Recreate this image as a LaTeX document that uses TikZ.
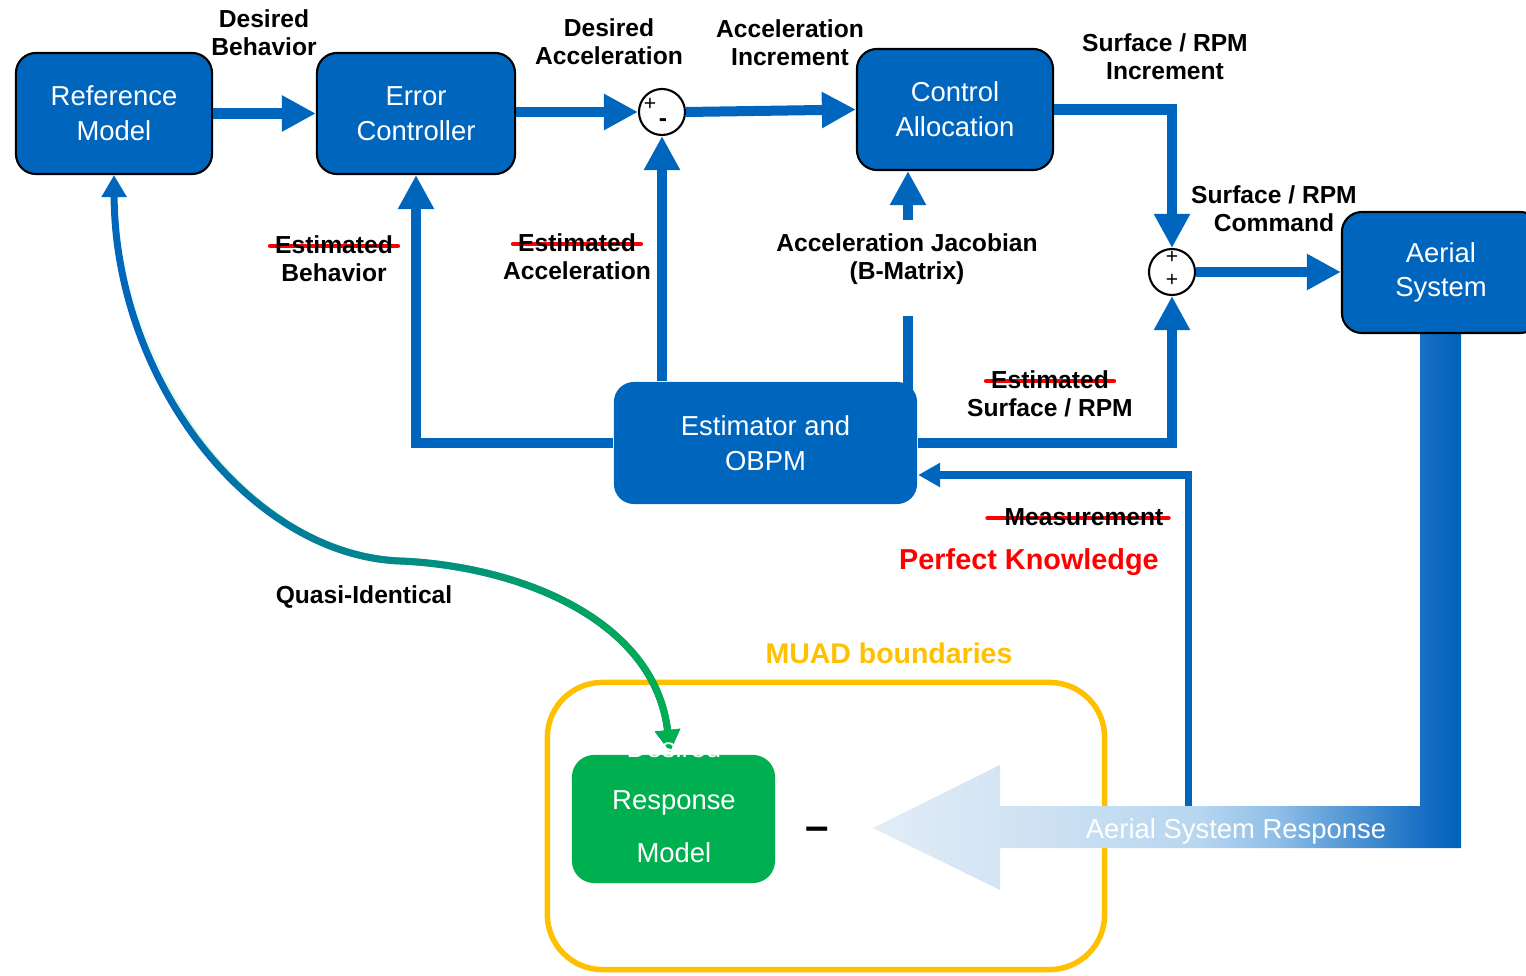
\documentclass[tikz,border=0pt]{standalone}
\usepackage{fontspec}
\setmainfont{Liberation Sans}
\usetikzlibrary{arrows.meta,fadings,backgrounds,calc}

\definecolor{mblue}{RGB}{0,102,189}
\definecolor{mgreen}{RGB}{0,176,80}
\definecolor{myellow}{RGB}{255,192,0}
\definecolor{mred}{RGB}{255,0,0}
% colour stops of the response band
\definecolor{bandA}{HTML}{E2EDF7}
\definecolor{bandB}{HTML}{D3E4F3}
\definecolor{bandC}{HTML}{B7D6F0}
\definecolor{bandD}{HTML}{8DBDE6}
\definecolor{bandE}{HTML}{62A0D9}
\definecolor{bandF}{HTML}{3A86CD}
\definecolor{bandG}{HTML}{1A70C4}
\definecolor{bandH}{HTML}{0062BA}
\pgfdeclarehorizontalshading{bandshade}{100bp}{%
  color(0bp)=(bandA); color(25bp)=(bandA); color(35.8bp)=(bandB);
  color(52.8bp)=(bandC); color(59.6bp)=(bandD); color(63.9bp)=(bandE);
  color(68.1bp)=(bandF); color(71.5bp)=(bandG); color(75bp)=(bandH);
  color(100bp)=(bandH)}
\tikzfading[name=curvefade, left color=transparent!100, right color=transparent!0]

\newcommand\boxfont{\fontsize{7.8}{9.9}\selectfont}
\newcommand\lblfont{\fontsize{7}{7.9}\selectfont\bfseries}

\tikzset{
  box/.style={draw=black, line width=0.6pt, fill=mblue, rounded corners=0.2cm,
    text=white, font=\boxfont, align=center, minimum width=1.96cm,
    minimum height=1.21cm, inner sep=0pt},
  lbl/.style={font=\lblfont, align=center, inner sep=1.2pt},
  sumj/.style={circle, draw=black, fill=white, line width=0.6pt,
    minimum size=0.46cm, inner sep=0pt},
  sgn/.style={font=\fontsize{6}{6}\selectfont, inner sep=0pt},
  flowline/.style={draw=mblue, line width=0.1cm, line join=miter},
  flow/.style={flowline, -{Triangle[length=0.34cm,width=0.34cm]}},
  thinflow/.style={draw=mblue, line width=0.07cm, line join=miter,
    -{Triangle[length=0.22cm,width=0.23cm]}},
  strike/.style={draw=mred, line width=1.4pt, line cap=round},
  curveline/.style={line width=0.07cm}
}

\begin{document}
\begin{tikzpicture}[x=0.01cm,y=-0.01cm]
\useasboundingbox (0,0) rectangle (1526,976);

% MUAD boundary
\node[draw=myellow, line width=0.055cm, rounded corners=0.55cm,
  minimum width=5.57cm, minimum height=2.87cm] (muad) at (826,826) {};
\node[font=\fontsize{8.1}{9}\selectfont\bfseries, text=myellow] (muadlbl) at (889,653) {MUAD boundaries};

% estimator
\node[box, draw=none, minimum width=3.03cm, minimum height=1.22cm] (est) at (765.5,443) {Estimator and\\OBPM};

% measurement feedback
\coordinate (mfoot) at (1188,812);
\coordinate (estm) at ($(est.east)+(0,32)$);
\draw[thinflow] (mfoot) |- (estm);

% aerial system response band
\shade[shading=bandshade] (1420,333) -- (1461,333) -- (1461,848) -- (1000,848)
  -- (1000,890) -- (873,828) -- (1000,765) -- (1000,806) -- (1420,806) -- cycle;
\node[font=\boxfont, text=white] (asr) at (1236,831) {Aerial System Response};

% blocks
\node[box] (ref) at (114,113.5) {Reference\\Model};
\node[box, minimum width=1.98cm] (err) at (416,113.5) {Error\\Controller};
\node[box] (ca) at (955,109.5) {Control\\Allocation};
\node[box, minimum width=1.98cm] (aer) at (1441,272.5) {Aerial\\System};

% summing junctions
\node[sumj] (s1) at (662,112) {};
\node[sgn] (s1p) at (650,104) {+};
\node[sgn, font=\fontsize{7}{7}\selectfont\bfseries] (s1m) at (663,123) {-};
\node[sumj] (s2) at (1172,272) {};
\node[sgn] (s2p) at (1172,257) {+};
\node[sgn] (s2q) at (1172,280) {+};

% forward path
\draw[flow] (ref.east) -- (err.west);
\draw[flow] (err.east |- s1.west) -- (s1.west);
\draw[flow] (s1.east) -- (ca.west);
\draw[flow] (ca.east) -| (s2.north);
\draw[flow] (s2.east) -- (aer.west |- s2.east);

% estimator feedback
\draw[flow] (est.west) -| (err.south);
\draw[flow] (est.north -| s1.south) -- (s1.south);
\draw[flow] (est.east) -| (s2.south);
\coordinate (jlow) at (908,316);
\coordinate (jhigh) at (908,220);
\draw[flowline] ($(est.north -| jlow)+(0,20)$) -- (jlow);
\draw[flow] (jhigh) -- (ca.south -| jhigh);

% desired response model
\node[fill=mgreen, rounded corners=0.22cm, minimum width=2.03cm,
  minimum height=1.28cm] (drm) at (673.5,819) {};
\coordinate (drmtip) at (670,752);
\node[font=\fontsize{12}{12}\selectfont\bfseries] (minus) at (817,834) {–};

% quasi-identical link
\draw[curveline, mblue,
  {Triangle[length=0.22cm,width=0.24cm]}-{Triangle[length=0.22cm,width=0.24cm]}]
  (ref.south) .. controls (115,380) and (250,555) .. (400,561)
  .. controls (520,566) and (655,620) .. (drmtip);
\draw[curveline, mgreen, path fading=curvefade,
  -{Triangle[length=0.22cm,width=0.24cm]}]
  (ref.south) .. controls (115,380) and (250,555) .. (400,561)
  .. controls (520,566) and (655,620) .. (drmtip);
\node[font=\fontsize{7.8}{15}\selectfont, text=white, align=center] (drmtext)
  at (674,800) {Desired\\Response\\Model};

% signal labels
\node[lbl] (l1) at (264,33) {Desired\\Behavior};
\node[lbl] (l2) at (609,42) {Desired\\Acceleration};
\node[lbl] (l3) at (790,43) {Acceleration\\Increment};
\node[lbl] (l4) at (1165,57) {Surface / RPM\\Increment};
\node[lbl] (l5) at (1274,209) {Surface / RPM\\Command};
\node[lbl] (l6) at (907,259) {Acceleration Jacobian\\(B-Matrix)};
\node[lbl] (l7) at (364,597) {Quasi-Identical};

% struck-out labels
\node[lbl] (eb1) at (334,245) {Estimated};
\node[lbl] (eb2) at (334,273) {Behavior};
\node[lbl] (ea1) at (577,243) {Estimated};
\node[lbl] (ea2) at (577,271) {Acceleration};
\node[lbl] (es1) at (1050,380) {Estimated};
\node[lbl] (es2) at (1050,408) {Surface / RPM};
\node[lbl] (meas) at (1084,517) {Measurement};
\begin{scope}[on background layer]
  \draw[strike] ($(eb1.west)+(0,1)$) -- ($(eb1.east)+(0,1)$);
  \draw[strike] ($(ea1.west)+(0,1)$) -- ($(ea1.east)+(0,1)$);
  \draw[strike] ($(es1.west)+(0,1)$) -- ($(es1.east)+(0,1)$);
  \draw[strike] ($(meas.west)+(-12,1)$) -- ($(meas.east)+(0,1)$);
\end{scope}
\node[font=\fontsize{8.2}{9}\selectfont\bfseries, text=mred] (pk) at (1029,562) {Perfect Knowledge};

\end{tikzpicture}
\end{document}
